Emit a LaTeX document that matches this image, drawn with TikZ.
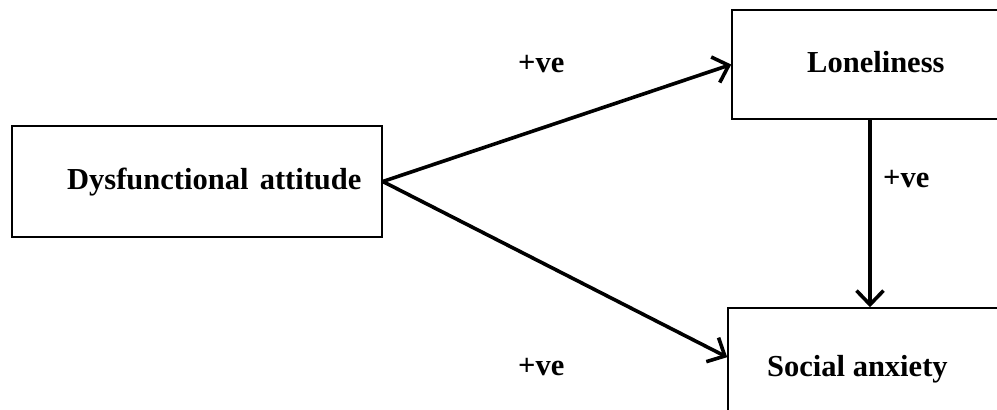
\documentclass[tikz,border=0pt]{standalone}
\usepackage{fontspec}
\setmainfont{Liberation Serif}
\usetikzlibrary{arrows.meta}
\begin{document}
\begin{tikzpicture}[x=1pt,y=-1pt,
  box/.style={draw,line width=1.6pt,inner sep=0pt,rectangle},
  lbl/.style={font=\fontsize{30.5}{33}\selectfont\bfseries,inner sep=0pt,anchor=base west},
  conn/.style={line width=3.6pt,-{Straight Barb[length=14pt,width=27pt,line width=3.6pt]}}]
\useasboundingbox (0,0) rectangle (997,410);
\node[box,minimum width=370pt,minimum height=111pt] (da) at (197,181.5) {};
\node[box,minimum width=276pt,minimum height=109pt] (lon) at (870,64.5) {};
\node[box,minimum width=284pt,minimum height=140pt] (sa) at (870,378) {};
\node[lbl] (tda) at (67,189) {Dysfunctional\hspace{0.12em} attitude};
\node[lbl] (tlon) at (807,72) {Loneliness};
\node[lbl] (tsa) at (767,376) {Social anxiety};
\node[lbl] (p1) at (518,72) {+ve};
\node[lbl] (p2) at (518,375) {+ve};
\node[lbl] (p3) at (883,187) {+ve};
\draw[conn] (da.east) -- (lon.west);
\draw[conn] (da.east) -- ([yshift=-50pt]sa.north west);
\draw[conn] (lon.south) -- (sa.north);
\end{tikzpicture}
\end{document}
